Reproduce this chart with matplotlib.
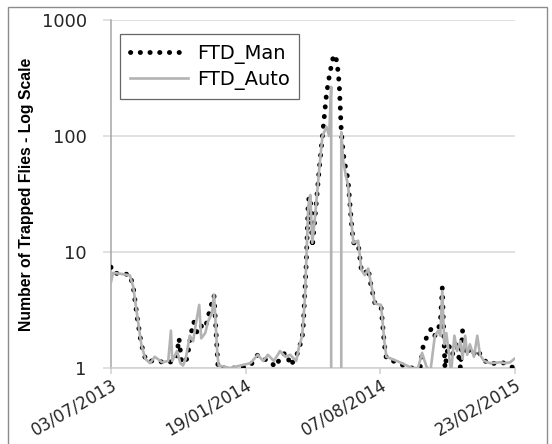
import numpy as np
import pandas as pd
import matplotlib
matplotlib.use("Agg")
from matplotlib import pyplot as plt
import matplotlib.dates as mdates
import matplotlib.patches as patches
from matplotlib.ticker import FixedLocator, FuncFormatter, NullLocator

# manual trap counts (dotted black series)
man_dates = ['2013-07-03', '2013-07-06', '2013-07-16', '2013-07-31', '2013-08-05', '2013-08-11',
             '2013-08-17', '2013-08-24', '2013-09-09', '2013-09-26', '2013-10-08', '2013-10-12',
             '2013-10-16', '2013-10-24', '2013-10-30', '2013-11-03', '2013-11-08', '2013-11-14',
             '2013-11-20', '2013-11-27', '2013-12-03', '2013-12-09', '2013-12-19', '2014-01-11',
             '2014-01-26', '2014-02-06', '2014-02-14', '2014-02-24', '2014-03-04', '2014-03-14',
             '2014-03-20', '2014-03-27', '2014-04-05', '2014-04-10', '2014-04-14', '2014-04-19',
             '2014-04-22', '2014-04-25', '2014-04-28', '2014-05-02', '2014-05-08', '2014-05-13',
             '2014-05-19', '2014-05-24', '2014-05-29', '2014-06-01', '2014-06-04', '2014-06-07',
             '2014-06-10', '2014-06-13', '2014-06-16', '2014-06-20', '2014-06-25', '2014-06-28',
             '2014-07-05', '2014-07-10', '2014-07-15', '2014-07-20', '2014-07-24', '2014-07-30',
             '2014-08-08', '2014-08-13', '2014-08-16', '2014-08-26', '2014-09-05', '2014-09-23',
             '2014-10-05', '2014-10-10', '2014-10-16', '2014-10-22', '2014-10-27', '2014-11-04',
             '2014-11-07', '2014-11-11', '2014-11-16', '2014-11-22', '2014-11-28', '2014-12-04',
             '2014-12-07', '2014-12-13', '2014-12-19', '2014-12-26', '2014-12-30', '2015-01-07',
             '2015-01-14', '2015-01-25', '2015-02-04', '2015-02-13', '2015-02-22']
man_values = [7.4, 6.6, 6.5, 6.4, 5.0, 2.7,
              1.6, 1.15, 1.15, 1.1, 1.2, 1.8,
              1.1, 1.2, 2.0, 2.5, 2.0, 2.3,
              2.2, 3.2, 4.2, 1.0, 1.0, 1.0,
              1.05, 1.3, 1.2, 1.15, 1.02, 1.3,
              1.35, 1.05, 1.3, 1.6, 2.0, 8.0,
              28, 30, 11, 20, 50, 100,
              230, 350, 480, 500, 420, 280,
              110, 70, 55, 42, 18, 12,
              12, 6.8, 6.5, 7.2, 5.2, 3.6,
              3.4, 1.6, 1.2, 1.15, 1.08, 1.0,
              1.0, 1.6, 1.9, 2.2, 1.9, 2.4,
              4.9, 1.0, 1.6, 1.3, 1.7, 1.0,
              2.1, 1.3, 1.5, 1.3, 1.4, 1.2,
              1.08, 1.1, 1.12, 1.05, 1.0]

# automatic trap counts (grey series)
auto_dates = ['2013-07-03', '2013-07-06', '2013-07-16', '2013-07-31', '2013-08-05', '2013-08-11',
              '2013-08-17', '2013-08-23', '2013-08-30', '2013-09-06', '2013-09-17', '2013-09-26',
              '2013-09-30', '2013-10-02', '2013-10-09', '2013-10-14', '2013-10-18', '2013-10-22',
              '2013-10-28', '2013-11-02', '2013-11-06', '2013-11-11', '2013-11-14', '2013-11-20',
              '2013-11-24', '2013-11-30', '2013-12-03', '2013-12-08', '2013-12-10', '2013-12-27',
              '2014-01-11', '2014-01-26', '2014-02-06', '2014-02-14', '2014-02-21', '2014-03-02',
              '2014-03-11', '2014-03-19', '2014-03-26', '2014-04-04', '2014-04-08', '2014-04-13',
              '2014-04-17', '2014-04-22', '2014-04-25', '2014-04-28', '2014-05-02', '2014-05-08',
              '2014-05-13', '2014-05-19', '2014-05-23', '2014-05-26', '2014-05-29', '2014-06-07',
              '2014-06-10', '2014-06-13', '2014-06-17', '2014-06-20', '2014-06-25', '2014-06-28',
              '2014-07-05', '2014-07-10', '2014-07-15', '2014-07-20', '2014-07-24', '2014-07-30',
              '2014-08-08', '2014-08-13', '2014-08-16', '2014-09-05', '2014-09-23', '2014-10-02',
              '2014-10-08', '2014-10-14', '2014-10-20', '2014-10-27', '2014-11-01', '2014-11-04',
              '2014-11-07', '2014-11-10', '2014-11-13', '2014-11-17', '2014-11-20', '2014-11-25',
              '2014-11-29', '2014-12-04', '2014-12-07', '2014-12-11', '2014-12-14', '2014-12-18',
              '2014-12-24', '2014-12-29', '2015-01-02', '2015-01-08', '2015-01-17', '2015-02-01',
              '2015-02-08', '2015-02-16', '2015-02-22']
auto_values = [5.5, 6.6, 6.5, 6.3, 5.0, 2.8,
               1.6, 1.2, 1.1, 1.25, 1.12, 1.15,
               2.1, 1.15, 1.4, 1.1, 1.05, 1.2,
               1.9, 1.7, 2.4, 3.5, 1.8, 2.0,
               2.5, 3.0, 4.3, 1.3, 1.05, 1.0,
               1.05, 1.1, 1.3, 1.15, 1.3, 1.15,
               1.4, 1.25, 1.3, 1.15, 1.5, 1.9,
               4.0, 25, 31, 12, 20, 50,
               100, 120, 100, 265, 0, 0,
               108, 60, 45, 38, 18, 12,
               12.5, 7.0, 6.3, 7.2, 5.4, 3.6,
               3.5, 1.7, 1.25, 1.12, 1.0, 1.0,
               1.35, 1.05, 0.9, 1.9, 2.1, 1.9,
               4.6, 1.6, 2.0, 1.3, 0.9, 1.9,
               1.4, 1.7, 1.2, 1.9, 1.3, 1.6,
               1.25, 1.9, 1.3, 1.15, 1.1, 1.12,
               1.1, 1.12, 1.2]

x_ticks = ['2013-07-03', '2014-01-19', '2014-08-07', '2015-02-23']
y_ticks = [1, 10, 100, 1000]

man_x = pd.to_datetime(man_dates)
auto_x = pd.to_datetime(auto_dates)
tick_x = pd.to_datetime(x_ticks)

fig = plt.figure(figsize=(5.52, 4.44), dpi=100)
ax = fig.add_axes([111 / 552, 1 - 368 / 444, 404 / 552, 348 / 444])

ax.set_yscale('log', nonpositive='clip')

ax.plot(man_x, man_values, color='black', lw=3.5, linestyle=(0, (0.05, 1.95)),
        dash_capstyle='round', solid_capstyle='round', label='FTD_Man', zorder=3)
ax.plot(auto_x, auto_values, color='#b3b3b3', lw=1.9, label='FTD_Auto', zorder=4)

ax.set_xlim(tick_x[0], tick_x[-1])
ax.set_ylim(1, 1000)

ax.xaxis.set_major_locator(FixedLocator(mdates.date2num(tick_x)))
ax.xaxis.set_major_formatter(mdates.DateFormatter('%d/%m/%Y'))
ax.yaxis.set_major_locator(FixedLocator(y_ticks))
ax.yaxis.set_major_formatter(FuncFormatter(lambda v, p: '%d' % v))
ax.yaxis.set_minor_locator(NullLocator())

ax.grid(axis='y', color='#d9d9d9', lw=1.1)
ax.set_axisbelow(True)
for s in ['top', 'right']:
    ax.spines[s].set_visible(False)
ax.spines['left'].set_color('#a6a6a6')
ax.spines['bottom'].set_color('#cfcfcf')
ax.spines['left'].set_linewidth(1.1)
ax.spines['bottom'].set_linewidth(1.1)

ax.tick_params(axis='y', length=5.5, color='#d9d9d9', width=1.1, labelsize=13,
               labelcolor='#262626', pad=12)
ax.tick_params(axis='x', length=4, color='#cfcfcf', width=1.1, labelsize=12,
               labelcolor='#262626', pad=1.5)
for lbl in ax.get_xticklabels():
    lbl.set_rotation(30)
    lbl.set_ha('right')
    lbl.set_rotation_mode('anchor')

ax.set_ylabel('Number of Trapped Flies - Log Scale', fontsize=11.3, fontweight='bold',
              family='Liberation Sans', va='center')
ax.yaxis.set_label_coords(-0.208, 0.5)

leg = ax.legend(loc='upper left', bbox_to_anchor=(9 / 404, 1 - 14 / 348), fontsize=14,
                frameon=True, fancybox=False, handlelength=3.0, borderpad=0.5,
                borderaxespad=0, handletextpad=0.45, labelspacing=0.3)
leg.get_frame().set_edgecolor('#404040')
leg.get_frame().set_linewidth(0.9)

# chart area border
fig.patches.append(patches.Rectangle((8 / 552, -0.05), 539 / 552, 1.05 - 7 / 444,
                                     transform=fig.transFigure, fill=False,
                                     edgecolor='#8c8c8c', lw=1.0))

fig.savefig('out.png', dpi=100)
